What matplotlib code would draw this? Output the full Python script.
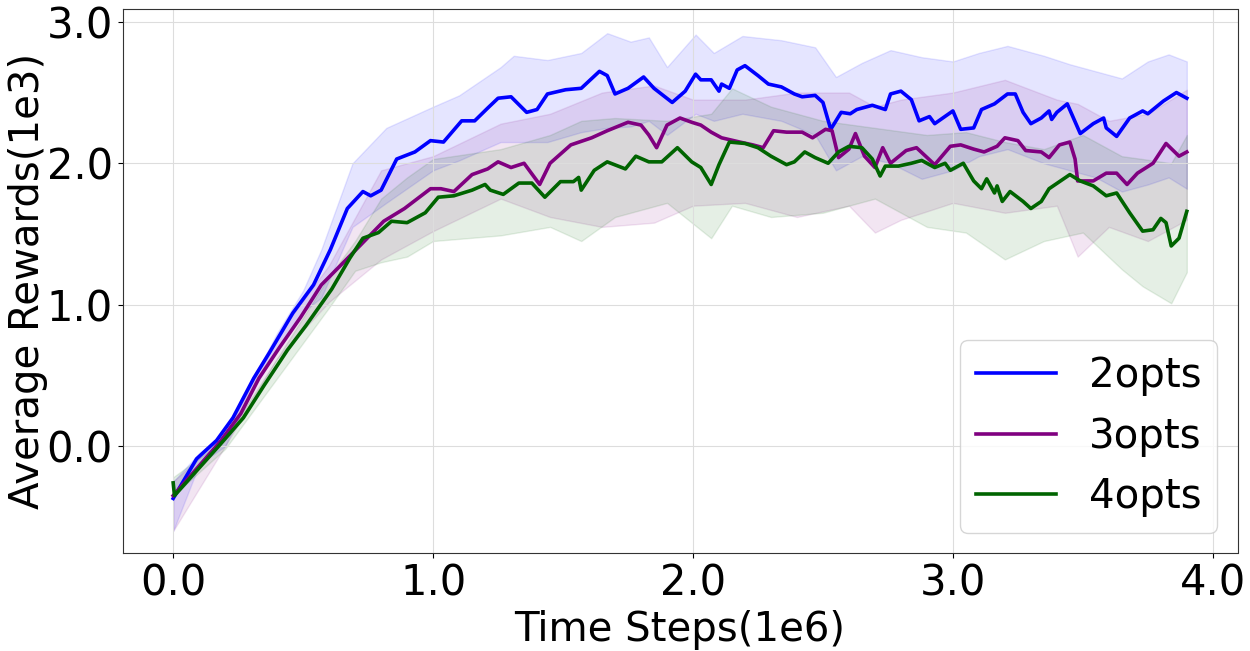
import matplotlib.pyplot as plt
import numpy as np

# mean curves (x in 1e6 steps, y in 1e3 rewards)
x_2opts = [0.0, 0.09, 0.167, 0.23, 0.31, 0.37, 0.46, 0.54, 0.605, 0.67, 0.73, 0.76, 0.80, 0.86, 0.93,
           0.99, 1.04, 1.11, 1.16, 1.21, 1.25, 1.30, 1.36, 1.40, 1.44, 1.51, 1.57, 1.64, 1.67, 1.70,
           1.75, 1.81, 1.85, 1.92, 1.97, 2.01, 2.03, 2.07, 2.10, 2.11, 2.14, 2.17, 2.20, 2.25, 2.29,
           2.34, 2.39, 2.42, 2.47, 2.50, 2.53, 2.57, 2.605, 2.63, 2.69, 2.74, 2.76, 2.80, 2.84, 2.87,
           2.91, 2.93, 3.00, 3.03, 3.08, 3.11, 3.16, 3.21, 3.24, 3.27, 3.30, 3.34, 3.37, 3.38, 3.40,
           3.44, 3.49, 3.54, 3.58, 3.59, 3.63, 3.68, 3.73, 3.75, 3.81, 3.86, 3.90]
y_2opts = [-0.37, -0.09, 0.04, 0.20, 0.48, 0.66, 0.94, 1.14, 1.39, 1.68, 1.80, 1.77, 1.81, 2.03, 2.08,
           2.16, 2.15, 2.30, 2.30, 2.39, 2.46, 2.47, 2.36, 2.38, 2.49, 2.52, 2.53, 2.65, 2.62, 2.49,
           2.53, 2.61, 2.53, 2.43, 2.51, 2.63, 2.59, 2.59, 2.51, 2.56, 2.53, 2.66, 2.69, 2.62, 2.56,
           2.54, 2.49, 2.47, 2.48, 2.43, 2.24, 2.36, 2.35, 2.38, 2.41, 2.38, 2.49, 2.51, 2.45, 2.30,
           2.33, 2.28, 2.37, 2.24, 2.25, 2.38, 2.42, 2.49, 2.49, 2.36, 2.28, 2.32, 2.37, 2.31, 2.36,
           2.42, 2.21, 2.28, 2.32, 2.25, 2.19, 2.32, 2.37, 2.35, 2.44, 2.50, 2.46]

x_3opts = [0.0, 0.18, 0.26, 0.33, 0.41, 0.49, 0.57, 0.64, 0.72, 0.81, 0.89, 0.99, 1.03, 1.08, 1.15,
           1.21, 1.25, 1.30, 1.35, 1.41, 1.45, 1.53, 1.61, 1.67, 1.75, 1.80, 1.83, 1.86, 1.90, 1.95,
           1.995, 2.03, 2.07, 2.11, 2.18, 2.23, 2.27, 2.31, 2.36, 2.42, 2.46, 2.51, 2.535, 2.56, 2.60,
           2.625, 2.66, 2.70, 2.73, 2.76, 2.82, 2.86, 2.93, 2.99, 3.03, 3.08, 3.12, 3.17, 3.20, 3.25,
           3.28, 3.34, 3.37, 3.41, 3.45, 3.47, 3.48, 3.54, 3.59, 3.63, 3.67, 3.71, 3.77, 3.82, 3.87, 3.90]
y_3opts = [-0.35, 0.03, 0.23, 0.48, 0.70, 0.91, 1.14, 1.27, 1.42, 1.59, 1.68, 1.82, 1.82, 1.80, 1.92,
           1.96, 2.01, 1.97, 2.00, 1.85, 2.00, 2.13, 2.18, 2.23, 2.29, 2.27, 2.20, 2.11, 2.27, 2.32,
           2.29, 2.27, 2.22, 2.18, 2.15, 2.13, 2.11, 2.23, 2.22, 2.22, 2.18, 2.24, 2.23, 2.04, 2.10,
           2.21, 2.05, 1.97, 2.11, 2.00, 2.09, 2.11, 1.99, 2.12, 2.13, 2.10, 2.08, 2.12, 2.18, 2.16,
           2.09, 2.08, 2.04, 2.13, 2.15, 2.03, 1.875, 1.875, 1.93, 1.93, 1.85, 1.93, 2.00, 2.14, 2.05, 2.08]

x_4opts = [0.0, 0.005, 0.18, 0.27, 0.35, 0.44, 0.51, 0.61, 0.68, 0.73, 0.79, 0.84, 0.90, 0.97, 1.02, 1.08,
           1.15, 1.20, 1.22, 1.27, 1.33, 1.38, 1.43, 1.49, 1.54, 1.56, 1.57, 1.62, 1.67, 1.74, 1.78,
           1.83, 1.88, 1.94, 1.995, 2.03, 2.07, 2.10, 2.14, 2.20, 2.25, 2.30, 2.36, 2.39, 2.43, 2.47,
           2.52, 2.56, 2.60, 2.65, 2.69, 2.72, 2.74, 2.79, 2.84, 2.88, 2.93, 2.97, 2.99, 3.04, 3.08,
           3.11, 3.13, 3.16, 3.17, 3.19, 3.22, 3.27, 3.30, 3.34, 3.37, 3.45, 3.49, 3.54, 3.59, 3.63,
           3.68, 3.73, 3.77, 3.80, 3.82, 3.84, 3.87, 3.90]
y_4opts = [-0.26, -0.35, 0.01, 0.20, 0.43, 0.68, 0.85, 1.11, 1.33, 1.47, 1.51, 1.59, 1.58, 1.65, 1.76, 1.77,
           1.81, 1.85, 1.81, 1.78, 1.86, 1.86, 1.76, 1.87, 1.87, 1.90, 1.81, 1.95, 2.01, 1.96, 2.05,
           2.01, 2.01, 2.11, 2.01, 1.97, 1.85, 1.99, 2.15, 2.14, 2.11, 2.05, 1.99, 2.01, 2.08, 2.04,
           2.00, 2.08, 2.12, 2.11, 2.03, 1.91, 1.98, 1.98, 2.00, 2.02, 1.97, 2.00, 1.95, 2.00, 1.875,
           1.82, 1.89, 1.79, 1.84, 1.73, 1.80, 1.73, 1.68, 1.73, 1.82, 1.92, 1.875, 1.84, 1.77, 1.79,
           1.65, 1.52, 1.53, 1.61, 1.58, 1.415, 1.47, 1.66]

# shaded spread (lower / upper edges)
band_x_2opts = [0.0, 0.1, 0.2, 0.3, 0.4, 0.5, 0.57, 0.69, 0.82, 1.0, 1.1, 1.26, 1.31, 1.44, 1.57,
                1.67, 1.76, 1.83, 1.90, 2.01, 2.08, 2.19, 2.34, 2.47, 2.55, 2.65, 2.76, 2.88, 3.00,
                3.10, 3.21, 3.35, 3.45, 3.55, 3.65, 3.75, 3.83, 3.90]
band_lo_2opts = [-0.6, -0.13, 0.0, 0.38, 0.68, 0.95, 1.05, 1.55, 1.72, 1.95, 2.02, 2.15, 2.15, 2.15, 2.22,
                 2.25, 2.26, 2.30, 2.20, 2.35, 2.30, 2.35, 2.30, 2.20, 1.95, 2.05, 2.00, 1.89, 1.95,
                 2.05, 2.10, 2.00, 1.95, 1.90, 1.80, 1.85, 1.90, 1.82]
band_hi_2opts = [-0.25, -0.05, 0.10, 0.45, 0.80, 1.10, 1.39, 2.00, 2.25, 2.40, 2.48, 2.68, 2.76, 2.73, 2.78,
                 2.92, 2.86, 2.89, 2.68, 2.91, 2.78, 2.90, 2.87, 2.82, 2.61, 2.71, 2.80, 2.75, 2.72,
                 2.78, 2.83, 2.76, 2.70, 2.65, 2.60, 2.72, 2.77, 2.72]

band_x_3opts = [0.0, 0.2, 0.4, 0.6, 0.8, 1.0, 1.26, 1.45, 1.65, 1.85, 2.0, 2.2, 2.4, 2.6, 2.7,
                2.8, 3.0, 3.2, 3.4, 3.48, 3.6, 3.75, 3.90]
band_lo_3opts = [-0.6, 0.0, 0.62, 1.02, 1.32, 1.52, 1.75, 1.62, 1.55, 1.58, 1.70, 1.72, 1.62, 1.70, 1.51,
                 1.60, 1.72, 1.65, 1.70, 1.34, 1.55, 1.45, 1.60]
band_hi_3opts = [-0.25, 0.08, 0.78, 1.28, 1.95, 2.05, 2.28, 2.35, 2.50, 2.55, 2.45, 2.45, 2.50, 2.50, 2.40,
                 2.45, 2.50, 2.59, 2.45, 2.42, 2.30, 2.35, 2.52]

band_x_4opts = [0.0, 0.2, 0.4, 0.6, 0.7, 0.8, 0.9, 1.0, 1.26, 1.45, 1.57, 1.7, 1.9, 2.07, 2.15,
                2.3, 2.5, 2.7, 2.9, 3.05, 3.2, 3.35, 3.5, 3.65, 3.73, 3.84, 3.90]
band_lo_4opts = [-0.35, -0.02, 0.48, 0.98, 1.24, 1.30, 1.34, 1.45, 1.49, 1.55, 1.45, 1.62, 1.72, 1.47, 1.70,
                 1.62, 1.65, 1.75, 1.55, 1.51, 1.32, 1.45, 1.51, 1.25, 1.13, 1.01, 1.23]
band_hi_4opts = [-0.22, 0.05, 0.62, 1.20, 1.45, 1.75, 1.90, 2.03, 2.10, 2.20, 2.30, 2.32, 2.30, 2.35, 2.53,
                 2.40, 2.30, 2.25, 2.20, 2.22, 2.15, 2.10, 2.20, 2.05, 2.03, 2.00, 2.20]

labels = ['2opts', '3opts', '4opts']
colors = ['blue', 'purple', 'darkgreen']

fig, ax = plt.subplots(figsize=(12.5, 6.51), dpi=100)

curves = [(x_2opts, y_2opts, band_x_2opts, band_lo_2opts, band_hi_2opts),
          (x_3opts, y_3opts, band_x_3opts, band_lo_3opts, band_hi_3opts),
          (x_4opts, y_4opts, band_x_4opts, band_lo_4opts, band_hi_4opts)]

for (x, y, bx, lo, hi), lab, c in zip(curves, labels, colors):
    ax.fill_between(bx, lo, hi, color=c, alpha=0.1)
    ax.plot(x, y, color=c, lw=2.6, label=lab)

ax.set_ylim(-0.756, 3.09)
ax.set_xticks([0, 1, 2, 3, 4])
ax.set_xticklabels(['0.0', '1.0', '2.0', '3.0', '4.0'])
ax.set_yticks([0, 1, 2, 3])
ax.set_yticklabels(['0.0', '1.0', '2.0', '3.0'])
ax.tick_params(labelsize=30)
ax.grid(True, color='#dddddd', lw=0.8)
for s in ax.spines.values():
    s.set_color('#333333')

ax.set_xlabel('Time Steps(1e6)', fontsize=29)
ax.set_ylabel('Average Rewards(1e3)', fontsize=29, labelpad=-1)
ax.legend(loc='lower right', fontsize=29)

fig.subplots_adjust(left=0.098, right=0.990, top=0.986, bottom=0.1505)
plt.savefig('out.png')
